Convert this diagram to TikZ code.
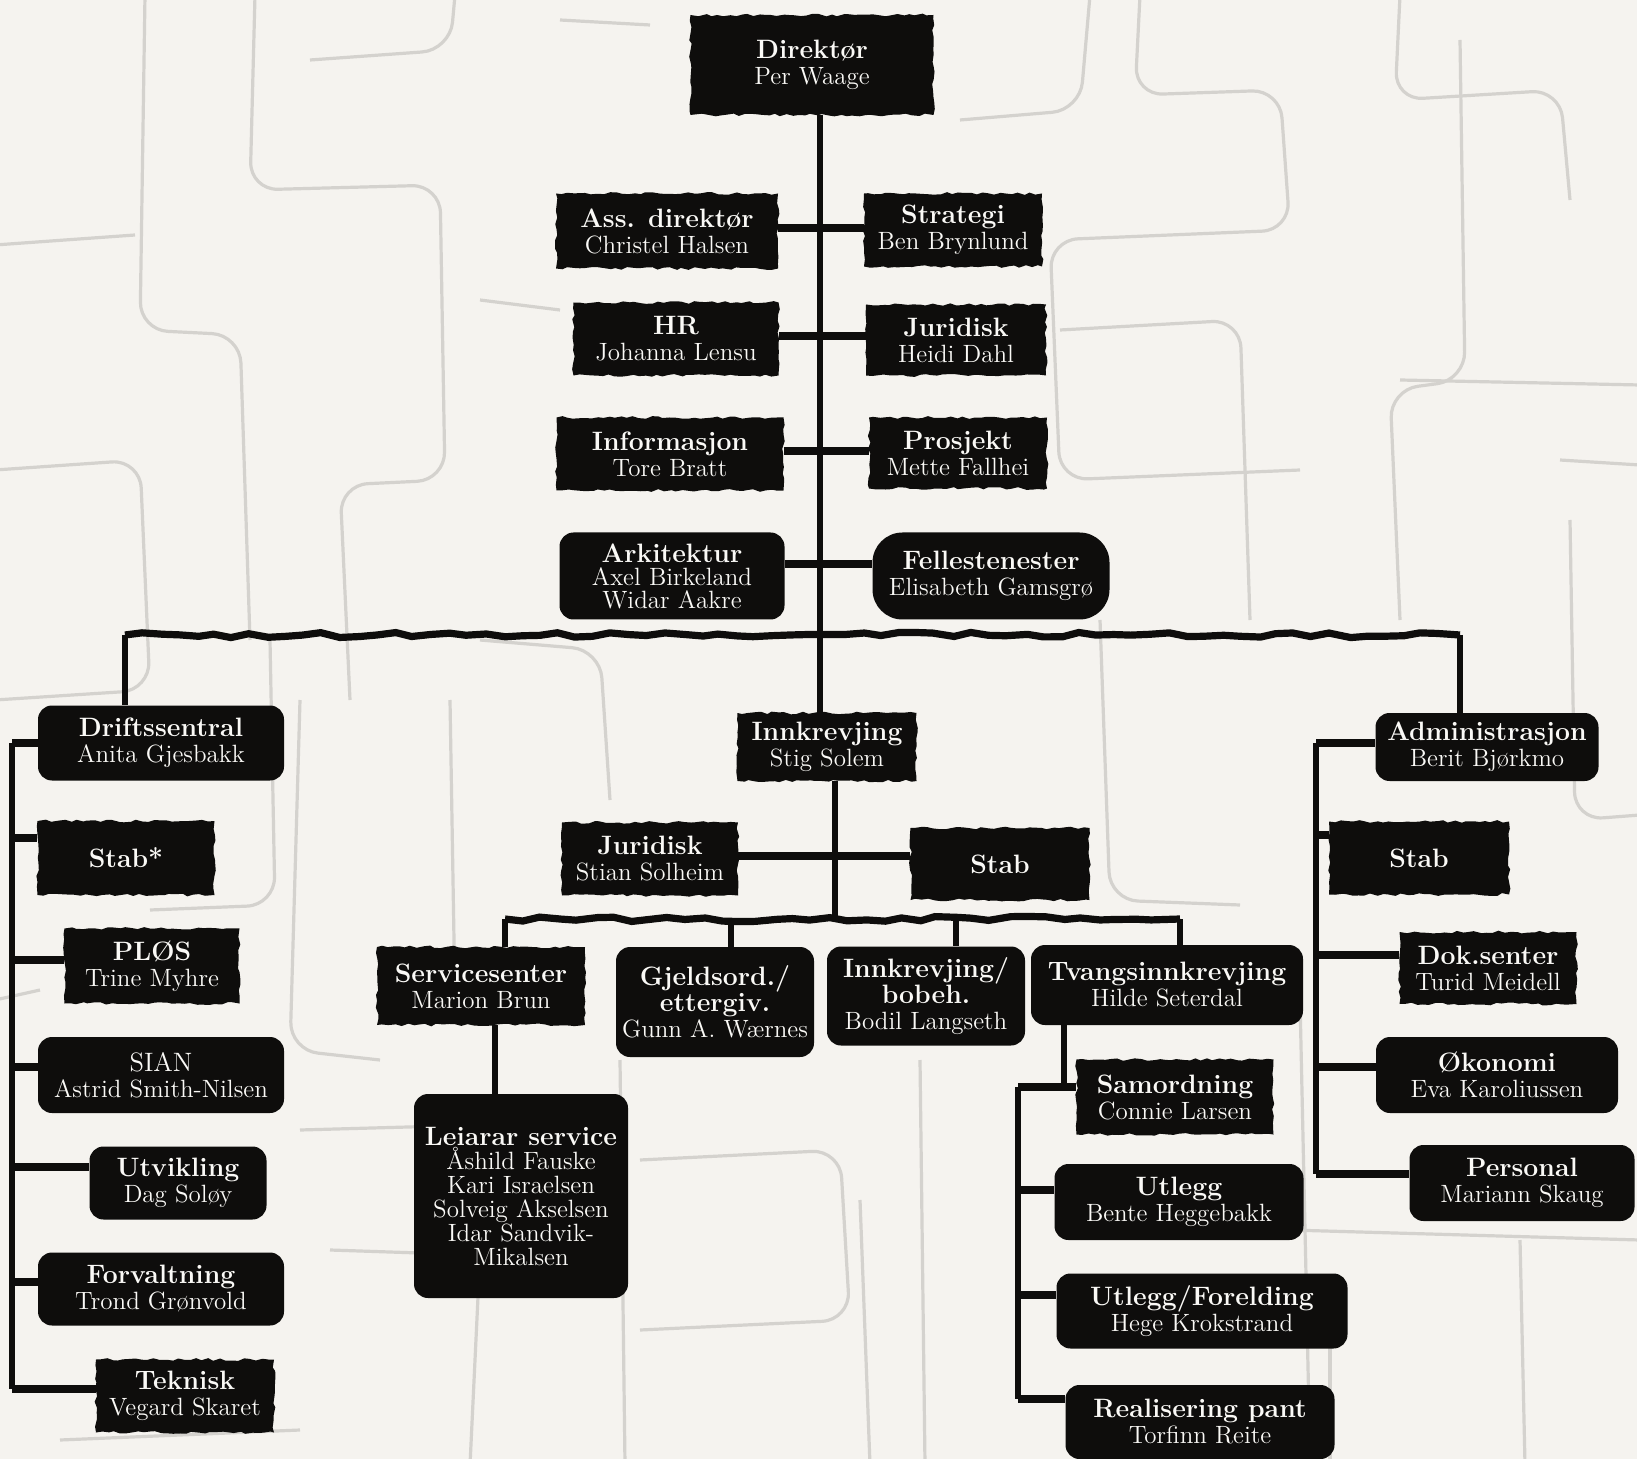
\documentclass[tikz,border=0pt]{standalone}
\usetikzlibrary{decorations.pathmorphing}
\definecolor{bgc}{RGB}{245,243,239}
\definecolor{mz}{RGB}{212,210,206}
\definecolor{ink}{RGB}{14,13,12}
\definecolor{paper}{RGB}{250,249,246}
\newcommand\bxtitle{\fontsize{13.3}{14}\selectfont\bfseries}
\newcommand\bxname{\fontsize{12.5}{13}\selectfont}
\newcommand\obox[7]{\node[#6, minimum width=#4*0.5pt, minimum height=#5*0.5pt] (#1) at (#2,#3) {#7};}
\tikzset{
 plainbox/.style={fill=ink, text=paper, inner sep=0pt, align=center, font=\bxname},
 orgbox/.style={plainbox,
   decorate, decoration={random steps, segment length=3pt, amplitude=0.7pt}},
 rbox/.style={plainbox, rounded corners=7pt},
 link/.style={draw=ink, line width=3pt},
 stub/.style={draw=ink, line width=4pt},
 wavy/.style={draw=ink, line width=3.6pt, decorate, decoration={random steps, segment length=9pt, amplitude=1.3pt}},
 maze/.style={draw=mz, line width=1.6pt, rounded corners=14pt},
}
\begin{document}
\begin{tikzpicture}[x=0.5pt,y=-0.5pt]
\pgfmathsetseed{12}
\fill[bgc] (0,0) rectangle (1637,1459);
\useasboundingbox (0,0) rectangle (1637,1459);
% background maze
\draw[maze] (145,-5) -- (140,330) -- (240,335) -- (250,640);
\draw[maze] (255,-5) -- (250,190) -- (440,185) -- (445,480) -- (340,485) -- (350,700);
\draw[maze] (-5,245) -- (135,235);
\draw[maze] (-5,470) -- (140,460) -- (150,690) -- (-5,700);
\draw[maze] (310,60) -- (450,50) -- (455,-5);
\draw[maze] (1140,-5) -- (1135,95) -- (1280,90) -- (1290,230) -- (1050,240) -- (1060,480) -- (1300,470);
\draw[maze] (1400,-5) -- (1395,100) -- (1560,90) -- (1570,200);
\draw[maze] (1460,40) -- (1465,380) -- (1390,390) -- (1400,620);
\draw[maze] (1400,380) -- (1640,385);
\draw[maze] (1560,460) -- (1640,465);
\draw[maze] (1570,520) -- (1575,820) -- (1640,815);
\draw[maze] (270,640) -- (275,905) -- (150,910);
\draw[maze] (450,700) -- (455,1000);
\draw[maze] (300,1130) -- (480,1125);
\draw[maze] (620,1060) -- (625,1465);
\draw[maze] (640,1160) -- (840,1150) -- (850,1320) -- (640,1330);
\draw[maze] (920,1060) -- (925,1465);
\draw[maze] (860,1200) -- (870,1465);
\draw[maze] (1290,1230) -- (1640,1240);
\draw[maze] (1330,1340) -- (1330,1465);
\draw[maze] (1520,1240) -- (1525,1465);
\draw[maze] (1100,620) -- (1110,900) -- (1240,905);
\draw[maze] (480,640) -- (600,650) -- (610,800);
\draw[maze] (-5,1000) -- (40,990);
\draw[maze] (330,1250) -- (480,1255) -- (470,1465);
\draw[maze] (300,700) -- (290,1050) -- (380,1060);
\draw[maze] (560,20) -- (650,25);
\draw[maze] (960,120) -- (1080,110) -- (1090,-5);
\draw[maze] (480,300) -- (560,310);
\draw[maze] (1060,330) -- (1240,320) -- (1250,620);
\draw[maze] (1300,1000) -- (1310,1459);
\draw[maze] (60,1440) -- (300,1430);
% boxes
\obox{dir}{812}{65}{243}{100}{orgbox}{{\bxtitle Direktør}\\Per Waage}
\obox{ass}{667}{231}{222}{75}{orgbox}{{\bxtitle Ass. direktør}\\Christel Halsen}
\obox{strat}{953}{230}{178}{73}{orgbox}{{\bxtitle Strategi}\\Ben Brynlund}
\obox{hr}{676}{339}{205}{73}{orgbox}{{\bxtitle HR}\\Johanna Lensu}
\obox{jur}{956}{340}{180}{71}{orgbox}{{\bxtitle Juridisk}\\Heidi Dahl}
\obox{info}{670}{454}{227}{73}{orgbox}{{\bxtitle Informasjon}\\Tore Bratt}
\obox{pros}{958}{453}{178}{71}{orgbox}{{\bxtitle Prosjekt}\\Mette Fallhei}
\obox{ark}{672}{576}{225}{87}{rbox}{{\bxtitle Arkitektur}\\[-1.5pt]Axel Birkeland\\[-1.5pt]Widar Aakre}
\obox{fel}{991}{576}{237}{87}{plainbox, rounded corners=15pt}{{\bxtitle Fellestenester}\\Elisabeth Gamsgrø}
\obox{drift}{161}{743}{246}{75}{rbox}{{\bxtitle Driftssentral}\\Anita Gjesbakk}
\obox{innk}{827}{747}{179}{68}{orgbox}{{\bxtitle Innkrevjing}\\Stig Solem}
\obox{adm}{1487}{747}{223}{68}{rbox}{{\bxtitle Administrasjon}\\Berit Bjørkmo}
\obox{stabL}{126}{858}{177}{74}{orgbox}{{\bxtitle Stab*}}
\obox{plos}{152}{966}{175}{75}{orgbox}{{\bxtitle PLØS}\\Trine Myhre}
\obox{sian}{161}{1075}{246}{76}{rbox}{{\fontsize{13.3}{14}\selectfont SIAN}\\Astrid Smith-Nilsen}
\obox{utv}{178}{1183}{177}{73}{rbox}{{\bxtitle Utvikling}\\Dag Soløy}
\obox{forv}{161}{1289}{246}{73}{rbox}{{\bxtitle Forvaltning}\\Trond Grønvold}
\obox{tek}{185}{1396}{178}{73}{orgbox}{{\bxtitle Teknisk}\\Vegard Skaret}
\obox{jur2}{650}{859}{176}{73}{orgbox}{{\bxtitle Juridisk}\\Stian Solheim}
\obox{stab2}{1000}{864}{179}{72}{orgbox}{{\bxtitle Stab}}
\obox{serv}{481}{986}{208}{78}{orgbox}{{\bxtitle Servicesenter}\\Marion Brun}
\obox{gjeld}{715}{1002}{198}{110}{rbox}{{\bxtitle Gjeldsord./}\\{\bxtitle ettergiv.}\\Gunn A. Wærnes}
\obox{innkb}{926}{996}{198}{99}{rbox}{{\bxtitle Innkrevjing/}\\{\bxtitle bobeh.}\\Bodil Langseth}
\obox{tvang}{1167}{985}{272}{80}{rbox}{{\bxtitle Tvangsinnkrevjing}\\Hilde Seterdal}
\obox{leiar}{521}{1196}{214}{204}{rbox}{{\bxtitle Leiarar service}\\[-1pt]Åshild Fauske\\[-1pt]Kari Israelsen\\[-1pt]Solveig Akselsen\\[-1pt]Idar Sandvik-\\[-1pt]Mikalsen}
\obox{samord}{1175}{1097}{197}{75}{orgbox}{{\bxtitle Samordning}\\Connie Larsen}
\obox{utlegg}{1179}{1202}{249}{76}{rbox}{{\bxtitle Utlegg}\\Bente Heggebakk}
\obox{utfor}{1202}{1311}{291}{75}{rbox}{{\bxtitle Utlegg/Forelding}\\Hege Krokstrand}
\obox{real}{1200}{1422}{269}{74}{rbox}{{\bxtitle Realisering pant}\\Torfinn Reite}
\obox{stabR}{1419}{858}{180}{73}{orgbox}{{\bxtitle Stab}}
\obox{dok}{1488}{968}{177}{72}{orgbox}{{\bxtitle Dok.senter}\\Turid Meidell}
\obox{okon}{1497}{1075}{242}{76}{rbox}{{\bxtitle Økonomi}\\Eva Karoliussen}
\obox{pers}{1522}{1183}{225}{76}{rbox}{{\bxtitle Personal}\\Mariann Skaug}
% trunk and staff links
\coordinate (tk) at (820,0);
\draw[link] (dir.south -| tk) -- (innk.north -| tk);
\draw[stub] ([yshift=1.5pt]ass.east) -- ([yshift=1.5pt]ass.east -| strat.west);
\draw[stub] ([yshift=1.5pt]hr.east) -- ([yshift=1.5pt]hr.east -| jur.west);
\draw[stub] ([yshift=1.5pt]info.east) -- ([yshift=1.5pt]info.east -| pros.west);
\draw[stub] ([yshift=6pt]ark.east) -- ([yshift=6pt]ark.east -| fel.west);
% main branch
\coordinate (bl) at (125,635);
\coordinate (br) at (1460,635);
\draw[wavy] (bl) -- (br);
\draw[link] (bl) -- (drift.north -| bl);
\draw[link] (br) -- (adm.north -| br);
% left column
\coordinate (lx) at (12,0);
\path (drift.west) coordinate (drift-in);
\path ([yshift=3.5pt]tek.west) coordinate (tek-in);
\draw[link] (drift-in -| lx) -- (tek-in -| lx);
\draw[stub] (drift-in -| lx) -- (drift-in);
\foreach \n/\s in {stabL/10pt, plos/3pt, sian/4pt, utv/8pt, forv/3.5pt, tek/3.5pt}{
  \path ([yshift=\s]\n.west) coordinate (\n-in);
  \draw[stub] (\n-in -| lx) -- (\n-in);
}
% right column
\coordinate (rx) at (1316,0);
\path ([yshift=2pt]adm.west) coordinate (adm-in);
\path ([yshift=4.5pt]pers.west) coordinate (pers-in);
\draw[link] (adm-in -| rx) -- (pers-in -| rx);
\draw[stub] (adm-in -| rx) -- (adm-in);
\foreach \n/\s in {stabR/11.5pt, dok/6.5pt, okon/4pt, pers/4.5pt}{
  \path ([yshift=\s]\n.west) coordinate (\n-in);
  \draw[stub] (\n-in -| rx) -- (\n-in);
}
% Innkrevjing subtree
\coordinate (ix) at (835,919);
\draw[link] (innk.south -| ix) -- (ix);
\draw[stub] ([yshift=1.5pt]jur2.east) -- ([yshift=1.5pt]jur2.east -| stab2.west);
\coordinate (il) at (505,919);
\coordinate (ig) at (731,919);
\coordinate (ib) at (956,919);
\coordinate (ir) at (1180,919);
\draw[wavy] (il) -- (ir);
\draw[link] (il) -- (serv.north -| il);
\draw[link] (ig) -- (gjeld.north -| ig);
\draw[link] (ib) -- (innkb.north -| ib);
\draw[link] (ir) -- (tvang.north -| ir);
\coordinate (sx) at (495,0);
\draw[link] (serv.south -| sx) -- (leiar.north -| sx);
% Tvangsinnkrevjing subtree
\coordinate (tv1) at (1064,1087);
\coordinate (tv2) at (1018,1087);
\draw[link] (tvang.south -| tv1) -- (tv1);
\draw[stub] (tv2) -- (samord.west |- tv2);
\path ([yshift=11.5pt]real.west) coordinate (real-in);
\draw[link] (tv2) -- (real-in -| tv2);
\foreach \n/\s in {utlegg/6pt, utfor/8pt, real/11.5pt}{
  \path ([yshift=\s]\n.west) coordinate (\n-in);
  \draw[stub] (\n-in -| tv2) -- (\n-in);
}
\end{tikzpicture}
\end{document}
